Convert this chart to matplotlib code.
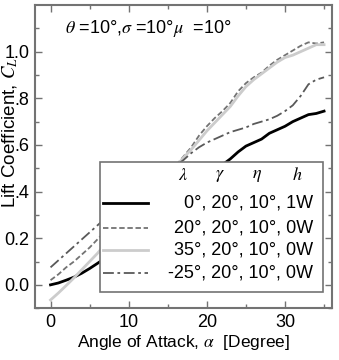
import numpy as np
import matplotlib
matplotlib.use("Agg")
import matplotlib.pyplot as plt
from matplotlib.patches import Rectangle
from matplotlib.lines import Line2D

plt.rcParams['font.family'] = ['Liberation Sans', 'DejaVu Sans']
plt.rcParams['mathtext.fontset'] = 'stix'

# angle of attack [deg]
alpha = np.arange(0, 36)

# lift coefficient
cl_0_1w = [0.000, 0.008, 0.020, 0.033, 0.050, 0.070, 0.092, 0.115, 0.140, 0.165,
           0.190, 0.220, 0.245, 0.270, 0.300, 0.325, 0.350, 0.380, 0.405, 0.435,
           0.460, 0.490, 0.515, 0.540, 0.570, 0.595, 0.610, 0.625, 0.650, 0.665,
           0.680, 0.700, 0.715, 0.730, 0.735, 0.745]
cl_20_0w = [0.020, 0.045, 0.075, 0.100, 0.130, 0.160, 0.195, 0.230, 0.260, 0.290,
            0.320, 0.355, 0.385, 0.415, 0.445, 0.480, 0.510, 0.550, 0.590, 0.640,
            0.680, 0.715, 0.745, 0.780, 0.830, 0.865, 0.890, 0.910, 0.940, 0.965,
            0.985, 1.005, 1.025, 1.040, 1.035, 1.040]
cl_35_0w = [-0.065, -0.035, -0.003, 0.030, 0.065, 0.100, 0.135, 0.175, 0.210, 0.245,
            0.280, 0.320, 0.355, 0.390, 0.430, 0.465, 0.505, 0.545, 0.580, 0.620,
            0.660, 0.695, 0.730, 0.765, 0.810, 0.850, 0.880, 0.905, 0.930, 0.955,
            0.975, 0.985, 1.000, 1.015, 1.030, 1.030]
cl_m25_0w = [0.075, 0.105, 0.135, 0.165, 0.195, 0.225, 0.255, 0.285, 0.310, 0.335,
             0.360, 0.385, 0.410, 0.435, 0.460, 0.485, 0.510, 0.535, 0.565, 0.590,
             0.610, 0.625, 0.640, 0.655, 0.665, 0.675, 0.690, 0.700, 0.710, 0.725,
             0.745, 0.770, 0.810, 0.860, 0.880, 0.890]

labels = ["0°, 20°, 10°, 1W", "20°, 20°, 10°, 0W",
          "35°, 20°, 10°, 0W", "-25°, 20°, 10°, 0W"]
series = [cl_0_1w, cl_20_0w, cl_35_0w, cl_m25_0w]
styles = [dict(color="black", lw=2.0, ls="-"),
          dict(color="0.45", lw=1.3, ls=(0, (3, 1.5))),
          dict(color="0.8", lw=2.0, ls="-"),
          dict(color="0.35", lw=1.3, ls=(0, (6, 2, 1.5, 2)))]

fig = plt.figure(figsize=(3.39, 3.6), dpi=100)
ax = fig.add_axes([0.103, 0.144, 0.876, 0.842])

for y, st in zip(series, styles):
    ax.plot(alpha, y, **st)

ax.set_xlim(-2, 36)
ax.set_ylim(-0.1, 1.2)
ax.set_xticks([0, 10, 20, 30])
ax.set_xticks([5, 15, 25, 35], minor=True)
ax.set_yticks([0.0, 0.2, 0.4, 0.6, 0.8, 1.0])
# the axis title sits over the "0" of these labels in the original
ax.set_yticklabels(["0.0", "0.2", ".4", ".6", ".8", "1.0"])
ax.set_yticks(np.arange(-0.1, 1.2, 0.2), minor=True)
ax.tick_params(which="both", direction="in", top=True, right=True,
               color="0.45", labelsize=13, pad=4)
ax.tick_params(which="major", length=5, width=1)
ax.tick_params(which="minor", length=3, width=1)
for s in ax.spines.values():
    s.set_color("0.45")
    s.set_linewidth(1.5)

ax.set_xlabel(r"Angle of Attack, $\alpha$  [Degree]", fontsize=12.5, labelpad=2)
ax.set_ylabel(r"Lift Coefficient, $C_L$", fontsize=13.5)
ax.yaxis.set_label_coords(-0.05, 0.578)

ax.text(0.101, 0.924, r"$\theta$ =10°,$\sigma$ =10°$\mu$  =10°", transform=ax.transAxes,
        fontsize=13, va="center")

# legend box drawn by hand so that the labels can be right aligned
ax.add_patch(Rectangle((0.219, 0.053), 0.751, 0.429, transform=ax.transAxes,
                       fc="white", ec="0.45", lw=1.2, zorder=5))
for hx, h in zip([0.498, 0.623, 0.747, 0.882],
                 [r"$\lambda$", r"$\gamma$", r"$\eta$", r"$h$"]):
    ax.text(hx, 0.436, h, transform=ax.transAxes, fontsize=13,
            ha="center", va="center", zorder=6)
rows = [0.347, 0.264, 0.191, 0.116]
for ry, lab, st in zip(rows, labels, styles):
    ax.add_line(Line2D([0.229, 0.380], [ry, ry], transform=ax.transAxes,
                       zorder=6, **st))
    ax.text(0.936, ry, lab, transform=ax.transAxes, fontsize=13,
            ha="right", va="center", zorder=6)

plt.savefig("out.png", dpi=100)
